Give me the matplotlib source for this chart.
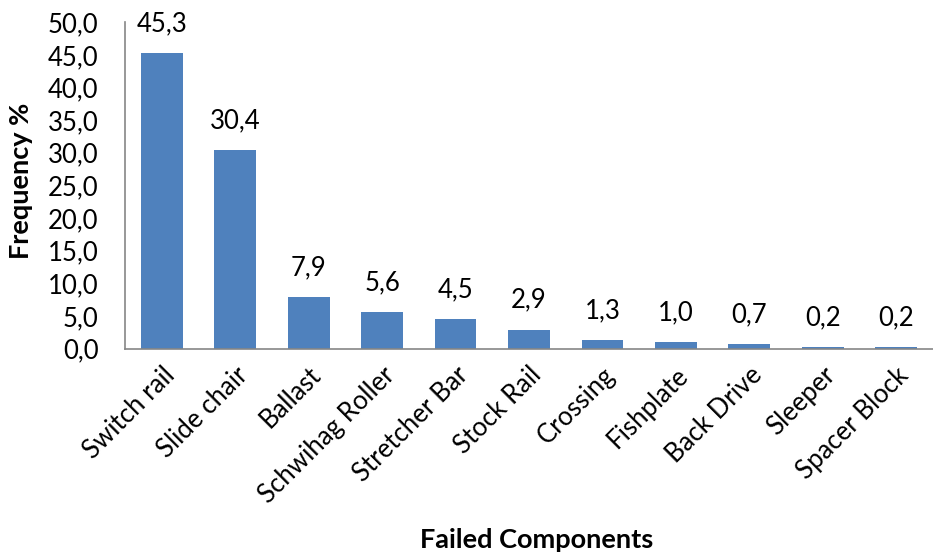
import matplotlib
matplotlib.use("Agg")
import matplotlib.pyplot as plt

# failed switch components and their frequency (%)
components = ["Switch rail", "Slide chair", "Ballast", "Schwihag Roller",
              "Stretcher Bar", "Stock Rail", "Crossing", "Fishplate",
              "Back Drive", "Sleeper", "Spacer Block"]
frequency = [45.3, 30.4, 7.9, 5.6, 4.5, 2.9, 1.3, 1.0, 0.7, 0.2, 0.2]
yticks = [0, 5, 10, 15, 20, 25, 30, 35, 40, 45, 50]

plt.rcParams['font.family'] = ['Lato', 'DejaVu Sans']
fs = 18.5

fig = plt.figure(figsize=(9.33, 5.55), dpi=100)
ax = fig.add_axes([0.134, 0.372, 0.866, 0.588])

x = list(range(len(components)))
ax.bar(x, frequency, width=0.57, color='#4F81BD')

# value labels above bars
for i, v in enumerate(frequency):
    ax.text(i, v + 2.6, f"{v:.1f}".replace('.', ','), ha='center', va='bottom',
            fontsize=fs)

ax.set_xlim(-0.5, len(components) - 0.5)
ax.set_ylim(0, 50)
ax.set_yticks(yticks)
ax.set_yticklabels([f"{t:.1f}".replace('.', ',') for t in yticks], fontsize=fs)
ax.set_xticks(x)
ax.set_xticklabels(components, rotation=45, ha='right', va='top',
                   rotation_mode='anchor', fontsize=fs)
ax.tick_params(axis='y', length=0, pad=19)
ax.tick_params(axis='x', length=0, pad=10)

ax.spines['top'].set_visible(False)
ax.spines['right'].set_visible(False)
ax.spines['left'].set_color('#868686')
ax.spines['bottom'].set_color('#868686')
ax.spines['left'].set_linewidth(1.2)
ax.spines['bottom'].set_linewidth(1.2)

ax.set_ylabel('Frequency %', fontsize=19.5, fontweight='bold')
ax.yaxis.set_label_coords(-0.114, 0.515)
fig.text(0.575, 0.006, 'Failed Components', ha='center', va='bottom',
         fontsize=19.5, fontweight='bold')

fig.savefig('out.png', dpi=100)
